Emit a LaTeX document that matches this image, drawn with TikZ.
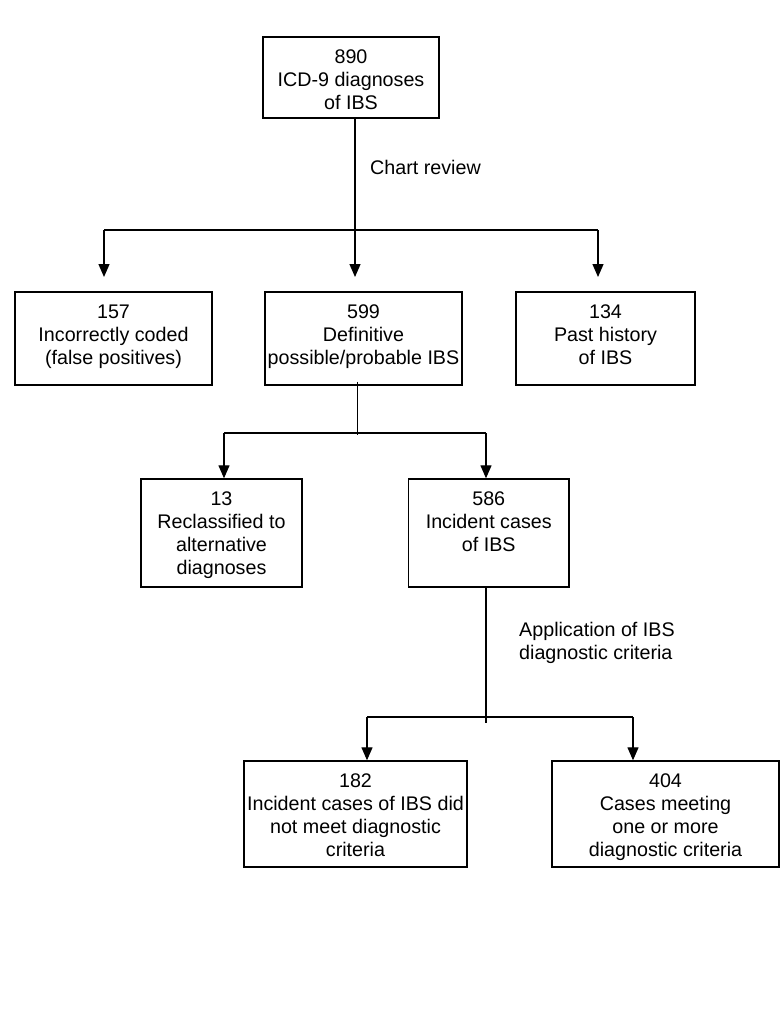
\documentclass[tikz,border=0pt]{standalone}
\usepackage{fontspec}
\setmainfont{Liberation Sans}
\usetikzlibrary{arrows.meta}
\newcommand\bxt[3]{\parbox[c][#2][t]{#1}{\centering\rule{0pt}{26.5pt}#3}}
\begin{document}
\begin{tikzpicture}[x=1pt,y=-1pt,
  every node/.style={font=\fontsize{19.7}{23}\selectfont},
  box/.style={draw=black, line width=1.4pt, inner sep=0pt, rectangle},
  link/.style={draw=black, line width=1.3pt},
  arr/.style={link, -{Triangle[length=13pt,width=11pt]}},
  lbl/.style={align=left, anchor=west, inner sep=0pt}]
\useasboundingbox (0,0) rectangle (784,1015);
% boxes
\node[box] (top)  at (351,77.5)   {\bxt{176pt}{81pt}{890\\ICD-9 diagnoses\\of IBS}};
\node[box] (b157) at (113.5,338.5) {\bxt{197pt}{93pt}{157\\Incorrectly coded\\(false positives)}};
\node[box] (b599) at (363.5,338.5) {\bxt{197pt}{93pt}{599\\Definitive\\possible/probable IBS}};
\node[box] (b134) at (605.5,338.5) {\bxt{179pt}{93pt}{134\\Past history\\of IBS}};
\node[box] (b13)  at (221.5,533)   {\bxt{161pt}{108pt}{13\\Reclassified to\\alternative\\diagnoses}};
\node[box] (b586) at (488.75,533)  {\bxt{160.5pt}{108pt}{586\\Incident cases\\of IBS}};
\node[box] (b182) at (355.5,814)   {\bxt{223pt}{106pt}{182\\Incident cases of IBS did\\not meet diagnostic\\criteria}};
\node[box] (b404) at (665.5,814)   {\bxt{227pt}{106pt}{404\\Cases meeting\\one or more\\diagnostic criteria}};
% labels
\node[lbl] (chart) at (370,167) {Chart review};
\node[lbl] (appl)  at (519,643) {Application of IBS\\diagnostic criteria};
% first split
\coordinate (s1) at (355,230);
\coordinate (t1l) at (104,277);
\coordinate (t1m) at (355,277);
\coordinate (t1r) at (598,277);
\draw[arr] (top.south -| s1) -- (t1m);
\draw[link] (s1 -| t1l) -- (s1 -| t1r);
\draw[arr] (s1 -| t1l) -- (t1l);
\draw[arr] (s1 -| t1r) -- (t1r);
% second split
\coordinate (s2) at (357.5,433);
\draw[link] ([yshift=4pt]b599.south -| s2) -- ([yshift=-2pt]s2);
\draw[link] (s2 -| 224,0) -- (s2 -| 486,0);
\draw[arr] (s2 -| 224,0) -- (b13.north -| 224,0);
\draw[arr] (s2 -| 486,0) -- (b586.north -| 486,0);
% third split
\coordinate (s3) at (486,717);
\draw[link] (b586.south -| s3) -- ([yshift=-6pt]s3);
\draw[link] (s3 -| 367,0) -- (s3 -| 633,0);
\draw[arr] (s3 -| 367,0) -- (b182.north -| 367,0);
\draw[arr] (s3 -| 633,0) -- (b404.north -| 633,0);
\end{tikzpicture}
\end{document}
